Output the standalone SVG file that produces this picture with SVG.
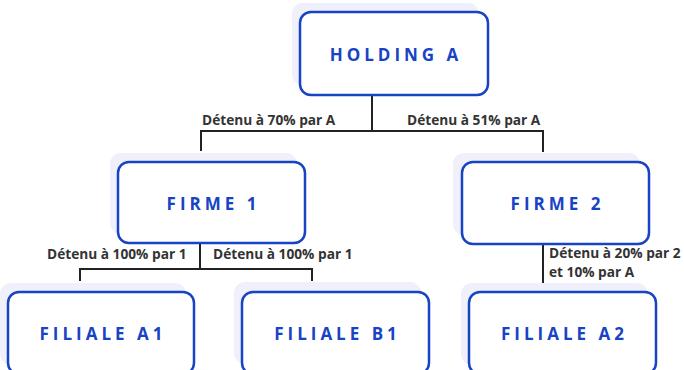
<svg xmlns="http://www.w3.org/2000/svg" width="684" height="370" viewBox="0 0 684 370">
<style>
.sh{fill:#eff0fb}
.bx{fill:#fff;stroke:#1743c4;stroke-width:2.5}
.t{font-family:"Open Sans","Noto Sans","Liberation Sans",sans-serif;font-weight:700;font-size:17px;letter-spacing:4px;fill:#1743c4;text-anchor:middle}
.l{font-family:"Open Sans","Noto Sans","Liberation Sans",sans-serif;font-weight:700;font-size:13.7px;fill:#333}
.c{fill:none;stroke:#222;stroke-width:2}
</style>
<rect width="684" height="370" fill="#fff"/>
<g id="connectors">
<path class="c" d="M372 95V131M201 131H543M201 130V151M543 130V152"/>
<path class="c" d="M200 243V269M80 269H312M80 268V281M312 268V281"/>
<path class="c" d="M543 244V283"/>
<text class="l" x="202" y="125">Détenu à 70% par A</text>
<text class="l" x="407" y="125">Détenu à 51% par A</text>
<text class="l" x="47" y="259">Détenu à 100% par 1</text>
<text class="l" x="213" y="259">Détenu à 100% par 1</text>
<text class="l" x="549" y="258">Détenu à 20% par 2</text>
<text class="l" x="549" y="277">et 10% par A</text>
</g>
<g id="holding-a">
<rect class="sh" x="292" y="3" width="187" height="82" rx="11"/>
<rect class="bx" x="300" y="12" width="188" height="83" rx="11"/>
<text class="t" x="396" y="61">HOLDING A</text>
</g>
<g id="firme-1">
<rect class="sh" x="110" y="153" width="187" height="81" rx="11"/>
<rect class="bx" x="118" y="162" width="187" height="81" rx="11"/>
<text class="t" x="213.5" y="210">FIRME 1</text>
</g>
<g id="firme-2">
<rect class="sh" x="453" y="153" width="187" height="82" rx="11"/>
<rect class="bx" x="462" y="162" width="187" height="82" rx="11"/>
<text class="t" x="557.5" y="210">FIRME 2</text>
</g>
<g id="filiale-a1">
<rect class="sh" x="0" y="283" width="186" height="82" rx="11"/>
<rect class="bx" x="8" y="292" width="186" height="82" rx="11"/>
<text class="t" x="103" y="340">FILIALE A1</text>
</g>
<g id="filiale-b1">
<rect class="sh" x="234" y="282" width="187" height="82" rx="11"/>
<rect class="bx" x="242" y="292" width="187" height="82" rx="11"/>
<text class="t" x="337.5" y="340">FILIALE B1</text>
</g>
<g id="filiale-a2">
<rect class="sh" x="461" y="283" width="187" height="82" rx="11"/>
<rect class="bx" x="469" y="292" width="187" height="82" rx="11"/>
<text class="t" x="564.5" y="340">FILIALE A2</text>
</g>
</svg>
